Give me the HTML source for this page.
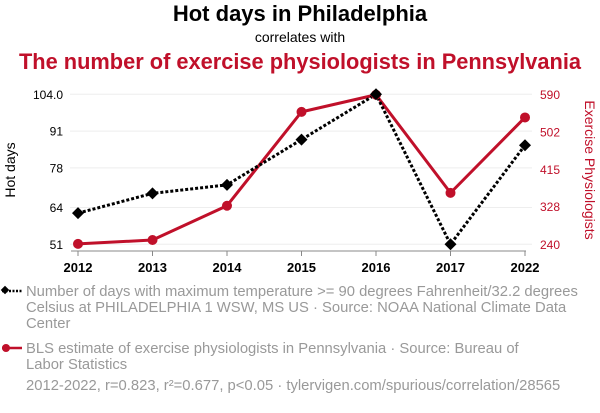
<!DOCTYPE html>
<html><head><meta charset="utf-8"><style>
body{margin:0;background:#fff;width:600px;height:408px;overflow:hidden;font-family:"Liberation Sans",sans-serif}
</style></head><body>
<svg width="600" height="408" xmlns="http://www.w3.org/2000/svg" font-family="Liberation Sans, sans-serif">
<text x="300" y="21" text-anchor="middle" font-size="22" font-weight="bold" fill="#000">Hot days in Philadelphia</text>
<text x="300" y="42" text-anchor="middle" font-size="14" fill="#000">correlates with</text>
<text x="300" y="69" text-anchor="middle" font-size="21.8" font-weight="bold" fill="#c0102a">The number of exercise physiologists in Pennsylvania</text>
<g id="grid"></g>
<g id="axes"></g>
<g id="series"></g>
<text transform="translate(15,170) rotate(-90)" text-anchor="middle" font-size="14" fill="#000">Hot days</text>
<text transform="translate(585,170) rotate(90)" text-anchor="middle" font-size="14" fill="#c0102a">Exercise Physiologists</text>
<g>
<line x1="2" y1="291" x2="22" y2="291" stroke="#000" stroke-width="2.5" stroke-dasharray="2,1.5"/>
<rect x="2" y="287" width="6" height="6" transform="rotate(45 5 290)" fill="#000"/>
<text font-size="14.8" fill="#999"><tspan x="26" y="296">Number of days with maximum temperature &gt;= 90 degrees Fahrenheit/32.2 degrees</tspan><tspan x="26" y="312">Celsius at PHILADELPHIA 1 WSW, MS US · Source: NOAA National Climate Data</tspan><tspan x="26" y="328">Center</tspan></text>
</g>
<g>
<line x1="2" y1="348" x2="22" y2="348" stroke="#c0102a" stroke-width="2.5"/>
<circle cx="6" cy="348" r="4" fill="#c0102a"/>
<text font-size="14.8" fill="#999"><tspan x="26" y="353">BLS estimate of exercise physiologists in Pennsylvania · Source: Bureau of</tspan><tspan x="26" y="369">Labor Statistics</tspan></text>
</g>
<text x="26" y="390" font-size="14.8" fill="#999">2012-2022, r=0.823, r²=0.677, p&lt;0.05 · tylervigen.com/spurious/correlation/28565</text>
</svg>
<script>
const years=["2012","2013","2014","2015","2016","2017","2022"];
const hotDays=[62,69,72,88,104,51,86];
const physiologists=[241,250,330,549,589,360,536];
const leftTicks=[51,64,78,91,104];
const leftTickLabels=["51","64","78","91","104.0"];
const rightTicks=[240,328,415,502,590];
const NS="http://www.w3.org/2000/svg";
const x0=78,x1=525,yTop=94.3,yBot=244.3;
const xs=i=>x0+(x1-x0)*i/(years.length-1);
const yL=v=>yBot-(v-51)/(104-51)*(yBot-yTop);
const yR=v=>yBot-(v-240)/(590-240)*(yBot-yTop);
function mk(t,a,p){const e=document.createElementNS(NS,t);for(const k in a)e.setAttribute(k,a[k]);p.appendChild(e);return e;}
const grid=document.getElementById('grid'),axes=document.getElementById('axes'),ser=document.getElementById('series');
leftTicks.forEach((v,i)=>{
 const l=mk('line',{x1:70,x2:532,y1:yL(v),y2:yL(v),stroke:'#eee','stroke-width':1},grid);
 
 
 const t=mk('text',{x:63,y:yL(v)+4.5,'text-anchor':'end','font-size':12,fill:'#000'},axes);
 t.textContent=leftTickLabels[i];
 
 
});
rightTicks.forEach(v=>{
 const t=mk('text',{x:540,y:yR(v)+4.5,'font-size':12,fill:'#c0102a'},axes);
 t.textContent=v;
 
 
});
const ax=mk('line',{x1:71,x2:526,y1:251,y2:251,stroke:'#888','stroke-width':1},axes);


years.forEach((y,i)=>{
 mk('line',{x1:xs(i),x2:xs(i),y1:251,y2:256,stroke:'#888'},axes);
 const t=mk('text',{x:xs(i),y:272,'text-anchor':'middle','font-size':13,'font-weight':'bold',fill:'#000'},axes);
 t.textContent=y;
 
 
});
const rl=mk('polyline',{points:physiologists.map((v,i)=>xs(i)+','+yR(v)).join(' '),fill:'none',stroke:'#c0102a','stroke-width':3,'stroke-linejoin':'round'},ser);


const bl=mk('polyline',{points:hotDays.map((v,i)=>xs(i)+','+yL(v)).join(' '),fill:'none',stroke:'#000','stroke-width':3,'stroke-dasharray':'3,2'},ser);


physiologists.forEach((v,i)=>{
 const c=mk('circle',{cx:xs(i),cy:yR(v),r:5,fill:'#c0102a'},ser);
 
 
});
hotDays.forEach((v,i)=>{
 const x=xs(i),y=yL(v);
 const d=mk('polygon',{points:`${x},${y-6} ${x+6},${y} ${x},${y+6} ${x-6},${y}`,fill:'#000'},ser);
 
 
});
</script>
</body></html>
